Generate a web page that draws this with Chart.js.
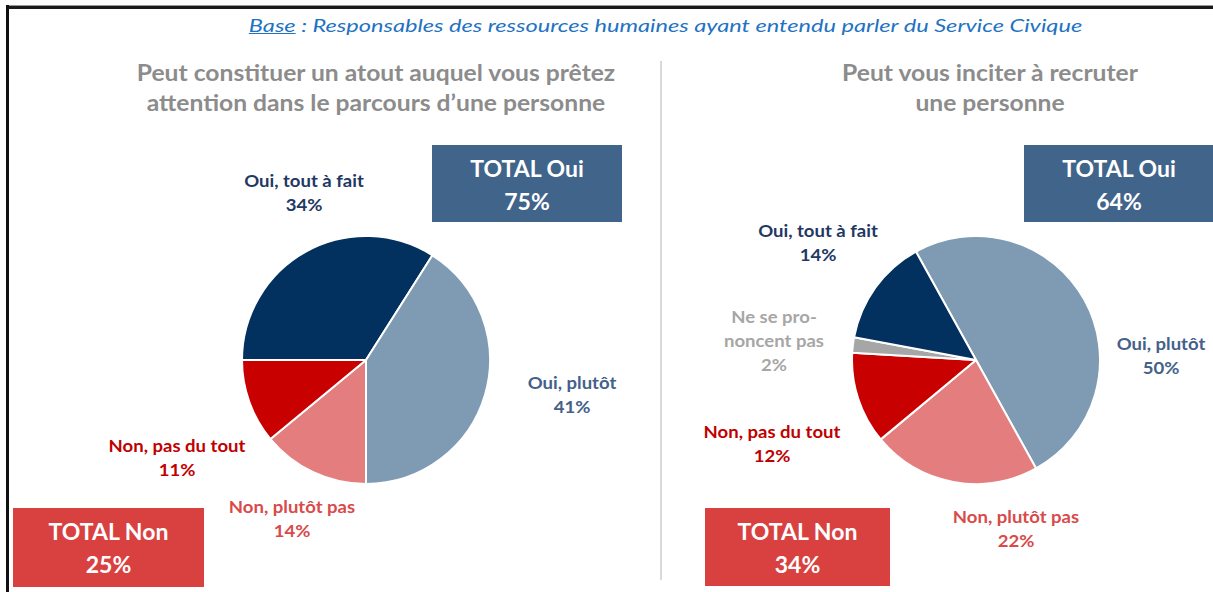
<!DOCTYPE html>
<html>
<head>
<meta charset="utf-8">
<script src="https://cdn.jsdelivr.net/npm/chart.js@4/dist/chart.umd.min.js"></script>
<style>
  html, body { margin: 0; padding: 0; background: #fff; }
  #root { position: relative; width: 1213px; height: 592px; overflow: hidden; background: #fff; font-family: Lato, "Open Sans", sans-serif; }
  .bt { position: absolute; left: 6px; top: 5px; width: 1213px; height: 3px; background: #1a1a1a; border-top: 1px solid #999; }
  .bl { position: absolute; left: 6px; top: 5px; width: 3px; height: 600px; background: #111; }
  .div { position: absolute; left: 660px; top: 61px; width: 2px; height: 519px; background: #d9d9d9; }
  .txt { position: absolute; text-align: center; white-space: nowrap; font-weight: bold; transform-origin: 50% 50%; }
  .box { position: absolute; color: #fff; font-weight: bold; text-align: center; }
  .pie { position: absolute; }
</style>
</head>
<body>
<div id="root">
  <div class="bt"></div>
  <div class="bl"></div>
  <div class="div"></div>
  <div class="txt" style="left:59px;width:1213px;top:13px;font-weight:normal;font-style:italic;font-size:18px;line-height:24px;color:#2272C3;transform:scaleX(1.31);">
    <span style="text-decoration:underline;">Base</span> : Responsables des ressources humaines ayant entendu parler du Service Civique
  </div>
  <div id="overlay"></div>
  <div class="pie" style="left:241px;top:235px;width:250px;height:250px;"><canvas id="c1" width="250" height="250"></canvas></div>
  <div class="pie" style="left:851px;top:235px;width:250px;height:250px;"><canvas id="c2" width="250" height="250"></canvas></div>
</div>
<script>
// ---- data ----
const leftCategories = ["Oui, tout à fait", "Oui, plutôt", "Non, plutôt pas", "Non, pas du tout"];
const leftValues = [34, 41, 14, 11];
const rightCategories = ["Oui, plutôt", "Non, plutôt pas", "Non, pas du tout", "Ne se prononcent pas", "Oui, tout à fait"];
const rightValues = [50, 22, 12, 2, 14];
const totalLabels = ["TOTAL Oui", "TOTAL Non"];
const leftTotals = [75, 25];
const rightTotals = [64, 34];
const leftTitle = ["Peut constituer un atout auquel vous prêtez", "attention dans le parcours d’une personne"];
const rightTitle = ["Peut vous inciter à recruter", "une personne"];

// ---- styles ----
const colorOf = {
  "Oui, tout à fait": "#02305F",
  "Oui, plutôt": "#7F9AB3",
  "Non, plutôt pas": "#E47D7D",
  "Non, pas du tout": "#C80000",
  "Ne se prononcent pas": "#A6A6A6"
};
const labelColorOf = {
  "Oui, tout à fait": "#1F3864",
  "Oui, plutôt": "#44618A",
  "Non, plutôt pas": "#D94A4A",
  "Non, pas du tout": "#C00000",
  "Ne se prononcent pas": "#A6A6A6"
};
const labelLines = {
  "Ne se prononcent pas": ["Ne se pro-", "noncent pas"]
};

// label anchor positions (center x, first line center y)
const leftLabelPos = {
  "Oui, tout à fait": [304, 181],
  "Oui, plutôt": [572, 383],
  "Non, plutôt pas": [292, 507],
  "Non, pas du tout": [177, 446]
};
const rightLabelPos = {
  "Oui, tout à fait": [818, 231],
  "Ne se prononcent pas": [774, 317],
  "Oui, plutôt": [1161, 344],
  "Non, pas du tout": [772, 432],
  "Non, plutôt pas": [1016, 517]
};

const overlay = document.getElementById('overlay');
function addText(lines, cx, cy, lh, size, color, sx) {
  lines.forEach((t, i) => {
    const d = document.createElement('div');
    d.className = 'txt';
    d.textContent = t;
    d.style.left = (cx - 300) + 'px';
    d.style.width = '600px';
    d.style.fontSize = size + 'px';
    d.style.lineHeight = lh + 'px';
    d.style.height = lh + 'px';
    d.style.top = (cy + i * lh - lh / 2) + 'px';
    d.style.color = color;
    if (sx) d.style.transform = 'scaleX(' + sx + ')';
    overlay.appendChild(d);
  });
}
function addBox(x, y, w, h, bg, title, val) {
  const b = document.createElement('div');
  b.className = 'box';
  b.style.left = x + 'px'; b.style.top = y + 'px';
  b.style.width = w + 'px'; b.style.height = h + 'px';
  b.style.background = bg;
  overlay.appendChild(b);
  addText([title, val + '%'], x + w / 2, y + 23, 33, 23, '#fff');
}

// titles
addText(leftTitle, 376, 73, 30, 22, '#8C8C8C', 1.12);
addText(rightTitle, 990, 73, 30, 22, '#8C8C8C', 1.12);

// boxes
addBox(432, 145, 190, 77, '#41648A', totalLabels[0], leftTotals[0]);
addBox(1024, 145, 190, 77, '#41648A', totalLabels[0], rightTotals[0]);
addBox(13, 508, 191, 79, '#D94141', totalLabels[1], leftTotals[1]);
addBox(705, 508, 185, 78, '#D94141', totalLabels[1], rightTotals[1]);

// slice labels
function sliceLabels(cats, vals, pos) {
  cats.forEach((c, i) => {
    const lines = (labelLines[c] || [c]).concat([vals[i] + '%']);
    const p = pos[c];
    addText(lines, p[0], p[1], 24, 17, labelColorOf[c], 1.09);
  });
}
sliceLabels(leftCategories, leftValues, leftLabelPos);
sliceLabels(rightCategories, rightValues, rightLabelPos);

function makePie(id, cats, vals, rotation) {
  new Chart(document.getElementById(id), {
    type: 'pie',
    data: {
      labels: cats,
      datasets: [{
        data: vals,
        backgroundColor: cats.map(c => colorOf[c]),
        borderColor: '#ffffff',
        borderWidth: 2
      }]
    },
    options: {
      responsive: false,
      animation: false,
      rotation: rotation,
      layout: { padding: 0 },
      plugins: { legend: { display: false }, tooltip: { enabled: false } }
    }
  });
}
makePie('c1', leftCategories, leftValues, -90);
makePie('c2', rightCategories, rightValues, -29);
</script>
</body>
</html>
